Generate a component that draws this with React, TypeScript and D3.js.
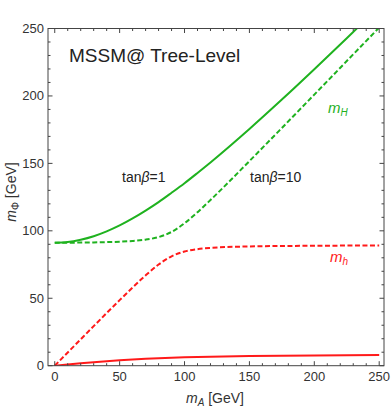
import React, { useRef, useEffect } from 'react';
import * as d3 from 'd3';

// m_A values (GeV) where the curves were read
const mA = [0, 10, 20, 30, 40, 50, 60, 70, 80, 90, 100, 110, 120, 150, 175, 200, 225, 250];

// tan(beta) = 1
const mH_tb1 = [91.2, 91.7, 93.4, 96.0, 99.6, 104.0, 109.2, 115.0, 121.3, 128.2, 135.3, 142.9, 150.7, 175.5, 197.3, 219.8, 242.8, 266.1];
const mh_tb1 = [0, 0.92, 1.8, 2.63, 3.37, 4.04, 4.62, 5.11, 5.54, 5.9, 6.21, 6.47, 6.69, 7.18, 7.45, 7.64, 7.78, 7.89];

// tan(beta) = 10
const mH_tb10 = [91.2, 91.21, 91.28, 91.4, 91.61, 91.94, 92.48, 93.45, 95.35, 99.18, 105.6, 113.8, 122.85, 151.7, 176.25, 201.0, 225.86, 250.75];
const mh_tb10 = [0, 9.8, 19.58, 29.34, 39.03, 48.61, 57.99, 66.96, 75.0, 81.11, 84.65, 86.4, 87.31, 88.41, 88.75, 88.93, 89.05, 89.12];

const xTicks = [0, 50, 100, 150, 200, 250];
const yTicks = [0, 50, 100, 150, 200, 250];

const GREEN = '#1fb21f';
const RED = '#ff1a1a';
const FONT = 'Liberation Sans, Arial, sans-serif';

const App = () => {
  const ref = useRef(null);

  useEffect(() => {
    const svg = d3.select(ref.current);
    svg.selectAll('*').remove();

    const left = 48, right = 384, top = 28.5, bottom = 365.7;

    const x = d3.scaleLinear().domain([-5.2, 253.7]).range([left, right]);
    const y = d3.scaleLinear().domain([0, 250]).range([bottom, top]);

    svg.append('defs').append('clipPath').attr('id', 'plotclip')
      .append('rect')
      .attr('x', left).attr('y', top)
      .attr('width', right - left).attr('height', bottom - top);

    const plot = svg.append('g').attr('clip-path', 'url(#plotclip)');

    const line = d3.line()
      .x((d) => x(d[0]))
      .y((d) => y(d[1]))
      .curve(d3.curveMonotoneX);

    const series = [
      { vals: mh_tb1, color: RED, dash: null },
      { vals: mh_tb10, color: RED, dash: '5,2.5' },
      { vals: mH_tb10, color: GREEN, dash: '5,2.5' },
      { vals: mH_tb1, color: GREEN, dash: null },
    ];

    series.forEach((s) => {
      plot.append('path')
        .datum(mA.map((a, i) => [a, s.vals[i]]))
        .attr('fill', 'none')
        .attr('stroke', s.color)
        .attr('stroke-width', 2)
        .attr('stroke-dasharray', s.dash)
        .attr('d', line);
    });

    // frame
    svg.append('rect')
      .attr('x', left).attr('y', top)
      .attr('width', right - left).attr('height', bottom - top)
      .attr('fill', 'none')
      .attr('stroke', '#444')
      .attr('stroke-width', 1);

    // ticks on all four sides, pointing in
    const minor = d3.range(0, 251, 10);
    const tk = svg.append('g').attr('stroke', '#444').attr('stroke-width', 1);
    minor.forEach((v) => {
      const len = v % 50 === 0 ? 4.5 : 2.5;
      tk.append('line').attr('x1', x(v)).attr('x2', x(v)).attr('y1', bottom).attr('y2', bottom - len);
      tk.append('line').attr('x1', x(v)).attr('x2', x(v)).attr('y1', top).attr('y2', top + len);
      tk.append('line').attr('x1', left).attr('x2', left + len).attr('y1', y(v)).attr('y2', y(v));
      tk.append('line').attr('x1', right).attr('x2', right - len).attr('y1', y(v)).attr('y2', y(v));
    });

    // tick labels
    svg.append('g').selectAll('text').data(xTicks).enter().append('text')
      .attr('x', (d) => x(d)).attr('y', 381)
      .attr('text-anchor', 'middle')
      .attr('font-family', FONT).attr('font-size', 13).attr('fill', '#333')
      .text((d) => d);

    svg.append('g').selectAll('text').data(yTicks).enter().append('text')
      .attr('x', 44).attr('y', (d) => y(d) + 4.5)
      .attr('text-anchor', 'end')
      .attr('font-family', FONT).attr('font-size', 13).attr('fill', '#333')
      .text((d) => d);

    // axis labels
    const xl = svg.append('text')
      .attr('x', 215).attr('y', 403)
      .attr('text-anchor', 'middle')
      .attr('font-family', FONT).attr('font-size', 14).attr('fill', '#333');
    xl.append('tspan').attr('font-style', 'italic').text('m');
    xl.append('tspan').attr('font-style', 'italic').attr('font-size', 10).attr('dy', 3).text('A');
    xl.append('tspan').attr('dy', -3).text(' [GeV]');

    const yl = svg.append('text')
      .attr('transform', 'translate(16,192) rotate(-90)')
      .attr('text-anchor', 'middle')
      .attr('font-family', FONT).attr('font-size', 14).attr('fill', '#333');
    yl.append('tspan').attr('font-style', 'italic').text('m');
    yl.append('tspan').attr('font-size', 10).attr('dy', 3).text('Φ');
    yl.append('tspan').attr('dy', -3).text(' [GeV]');

    // annotations
    svg.append('text')
      .attr('x', 69).attr('y', 62)
      .attr('font-family', FONT).attr('font-size', 19).attr('fill', '#222')
      .text('MSSM@ Tree-Level');

    const t1 = svg.append('text')
      .attr('x', 122).attr('y', 182)
      .attr('font-family', FONT).attr('font-size', 14).attr('fill', '#222');
    t1.append('tspan').text('tan');
    t1.append('tspan').attr('font-style', 'italic').text('β');
    t1.append('tspan').text('=1');

    const t10 = svg.append('text')
      .attr('x', 250).attr('y', 182)
      .attr('font-family', FONT).attr('font-size', 14).attr('fill', '#222');
    t10.append('tspan').text('tan');
    t10.append('tspan').attr('font-style', 'italic').text('β');
    t10.append('tspan').text('=10');

    const lH = svg.append('text')
      .attr('x', 328).attr('y', 113)
      .attr('font-family', FONT).attr('font-size', 15).attr('font-style', 'italic').attr('fill', GREEN);
    lH.append('tspan').text('m');
    lH.append('tspan').attr('font-size', 10).attr('dy', 3).text('H');

    const lh = svg.append('text')
      .attr('x', 330).attr('y', 262)
      .attr('font-family', FONT).attr('font-size', 15).attr('font-style', 'italic').attr('fill', RED);
    lh.append('tspan').text('m');
    lh.append('tspan').attr('font-size', 10).attr('dy', 3).text('h');
  }, []);

  return (
    <svg
      ref={ref}
      width={391}
      height={408}
      style={{ position: 'absolute', left: 0, top: 0, background: '#fff' }}
    />
  );
};

export default App;
